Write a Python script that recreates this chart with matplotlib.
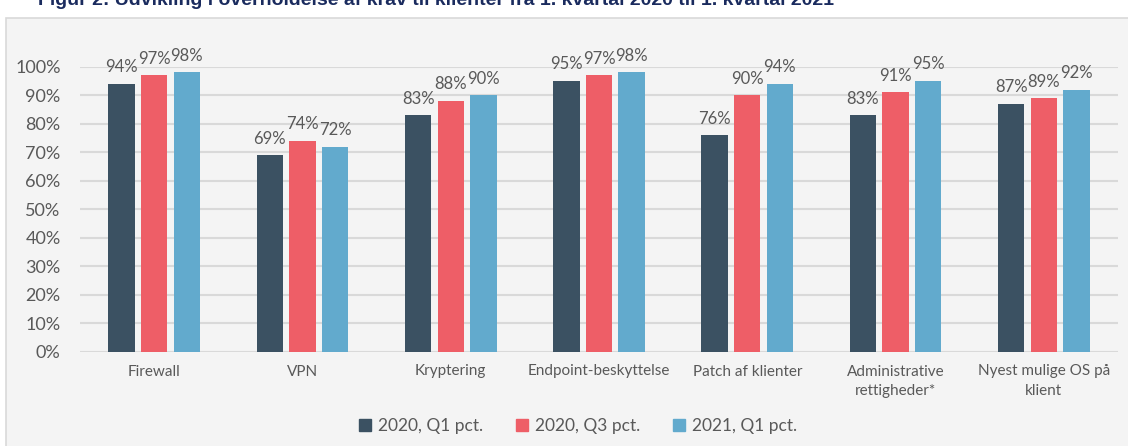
import matplotlib
matplotlib.use("Agg")
import matplotlib.pyplot as plt
import matplotlib.patches as mpatches
import numpy as np

# data
categories = ["Firewall", "VPN", "Kryptering", "Endpoint-beskyttelse",
              "Patch af klienter", "Administrative\nrettigheder*",
              "Nyest mulige OS på\nklient"]
series_names = ["2020, Q1 pct.", "2020, Q3 pct.", "2021, Q1 pct."]
q1_2020 = [94, 69, 83, 95, 76, 83, 87]
q3_2020 = [97, 74, 88, 97, 90, 91, 89]
q1_2021 = [98, 72, 90, 98, 94, 95, 92]
yticks = [0, 10, 20, 30, 40, 50, 60, 70, 80, 90, 100]

colors = ["#3b5162", "#ee5e67", "#62aacd"]
text_grey = "#595959"
bg = "#f4f4f4"

plt.rcParams["font.family"] = ["Lato", "DejaVu Sans"]

W, H = 1128, 446
fig = plt.figure(figsize=(W / 100, H / 100), dpi=100)
fig.patch.set_facecolor("white")

# grey chart frame behind the axes
frame = mpatches.Rectangle((6 / W, -0.01), 1.0, 1.01 - 18 / H, transform=fig.transFigure,
                           facecolor=bg, edgecolor="#d9d9d9", lw=1.2, zorder=-5)
fig.patches.append(frame)

# title, cut off at the top edge as in the source
fig.text(38 / W, 1 - 5 / H,
         "Figur 2: Udvikling i overholdelse af krav til klienter fra 1. kvartal 2020 til 1. kvartal 2021",
         fontsize=14, fontweight="bold", color="#1a2b5e", va="baseline", ha="left",
         family="Liberation Sans")

# axes in pixel coordinates
x0, x1 = 80, 1118
y_bottom, y_top = 352, 66.7
ax = fig.add_axes([x0 / W, (H - y_bottom) / H, (x1 - x0) / W, (y_bottom - y_top) / H])
ax.set_facecolor("none")
ax.set_zorder(2)

x = np.arange(len(categories))
step = 0.22
width = 0.178
for i, vals in enumerate([q1_2020, q3_2020, q1_2021]):
    pos = x + (i - 1) * step
    ax.bar(pos, vals, width=width, color=colors[i], zorder=3, label=series_names[i])
    for p, v in zip(pos, vals):
        ax.text(p, v + 3, f"{v}%", ha="center", va="bottom", fontsize=12,
                color=text_grey, clip_on=False)

ax.set_xlim(-0.5, len(categories) - 0.5)
ax.set_ylim(0, 100)
ax.set_yticks(yticks)
ax.set_yticklabels([f"{t}%" for t in yticks])
ax.yaxis.grid(True, color="#d9d9d9", lw=1.5, zorder=0)
ax.set_axisbelow(True)
ax.set_xticks(x)
ax.set_xticklabels(categories, fontsize=11, color=text_grey, linespacing=1.5)
ax.tick_params(axis="y", length=0, pad=14, labelsize=13, labelcolor=text_grey)
ax.tick_params(axis="x", length=0, pad=9)
for s in ax.spines.values():
    s.set_visible(False)

handles = [mpatches.Patch(color=c) for c in colors]
fig.legend(handles, series_names, loc="center", bbox_to_anchor=(578 / W, 1 - 426 / H),
           ncol=3, frameon=False, fontsize=12.5, labelcolor=text_grey,
           handlelength=0.7, handleheight=0.7, handletextpad=0.4, columnspacing=1.9)

fig.savefig("out.png", dpi=100, facecolor="white")
